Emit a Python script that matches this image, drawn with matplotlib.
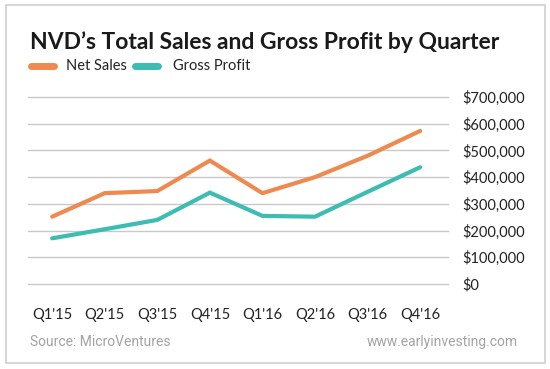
import matplotlib
matplotlib.use("Agg")
import matplotlib.pyplot as plt
from matplotlib.patches import Rectangle
from matplotlib.lines import Line2D
from matplotlib.ticker import FuncFormatter

# data
QUARTERS = ["Q1'15", "Q2'15", "Q3'15", "Q4'15", "Q1'16", "Q2'16", "Q3'16", "Q4'16"]
NET_SALES = [252000, 340000, 348000, 462000, 340000, 400000, 480000, 573000]
GROSS_PROFIT = [171000, 205000, 240000, 342000, 255000, 252000, 345000, 437000]
Y_TICKS = [0, 100000, 200000, 300000, 400000, 500000, 600000, 700000]

ORANGE = "#ee8a4f"
TEAL = "#3dbcb1"
GRID = "#c9c9c9"
FONT = "Lato"

W, H = 550, 369
fig = plt.figure(figsize=(W / 100, H / 100), dpi=100)
fig.patch.set_facecolor("white")

# outer frame
fig.patches.append(Rectangle((6 / W, 1 - 363 / H), 539 / W, 358 / H,
                             transform=fig.transFigure, fill=False,
                             ec="#cfcfcf", lw=1.2))

ax = fig.add_axes([28 / W, 1 - 284 / H, 420 / W, 187 / H])
x = list(range(len(QUARTERS)))

for yv in Y_TICKS:
    ax.axhline(yv, color=GRID, lw=1.0, zorder=1, clip_on=False)

ax.plot(x, NET_SALES, color=ORANGE, lw=3.0, solid_capstyle="round",
        solid_joinstyle="miter", zorder=3)
ax.plot(x, GROSS_PROFIT, color=TEAL, lw=3.0, solid_capstyle="round",
        solid_joinstyle="miter", zorder=3)

ax.set_xlim(-0.46, 7.53)
ax.set_ylim(0, 700000)
for s in ax.spines.values():
    s.set_visible(False)

ax.set_xticks(x)
ax.set_xticklabels(QUARTERS, fontsize=10.5, family=FONT, color="#222222")
ax.yaxis.tick_right()
ax.set_yticks(Y_TICKS)
ax.yaxis.set_major_formatter(FuncFormatter(lambda v, p: f"${v:,.0f}"))
for lab in ax.get_yticklabels():
    lab.set_fontsize(10.5)
    lab.set_family(FONT)
    lab.set_color("#222222")
ax.tick_params(axis="x", length=0, pad=17)
ax.tick_params(axis="y", length=0, pad=10)

# title and legend
fig.text(30 / W, 1 - 49 / H, "NVD’s Total Sales and Gross Profit by Quarter",
         fontsize=16.5, fontweight="bold", family=FONT, color="#1a1a1a",
         ha="left", va="baseline")

ly = 1 - 66 / H
fig.add_artist(Line2D([31 / W, 54 / W], [ly, ly], color=ORANGE, lw=5,
                      solid_capstyle="round", transform=fig.transFigure))
fig.text(66 / W, ly, "Net Sales", fontsize=10.5, family=FONT,
         color="#222222", va="center")
fig.add_artist(Line2D([135 / W, 158 / W], [ly, ly], color=TEAL, lw=5,
                      solid_capstyle="round", transform=fig.transFigure))
fig.text(173 / W, ly, "Gross Profit", fontsize=10.5, family=FONT,
         color="#222222", va="center")

# footer
fig.text(30 / W, 1 - 342 / H, "Source: MicroVentures", fontsize=10,
         family="Roboto", color="#a3a3a3", va="center")
fig.text(518 / W, 1 - 342 / H, "www.earlyinvesting.com", fontsize=10,
         family="Roboto", color="#a3a3a3", va="center", ha="right")

fig.savefig("out.png", dpi=100)
